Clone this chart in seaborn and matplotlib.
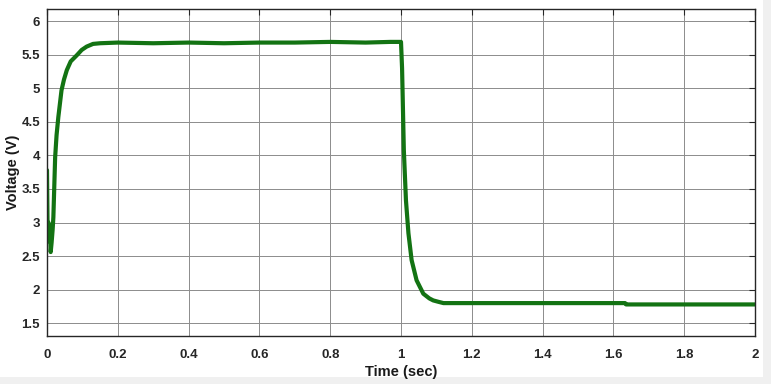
import matplotlib
matplotlib.use('Agg')
import matplotlib.pyplot as plt
import seaborn as sns
import pandas as pd
from matplotlib.patches import Rectangle

# Voltage trace
time_s = [0.0, 0.002, 0.004, 0.006, 0.008, 0.0104, 0.013, 0.016, 0.018, 0.023, 0.027,
          0.032, 0.041, 0.048, 0.056, 0.067, 0.084, 0.098, 0.112, 0.13, 0.15, 0.2,
          0.3, 0.4, 0.5, 0.6, 0.7, 0.8, 0.9, 0.97, 1.0,
          1.003, 1.005, 1.008, 1.014, 1.021, 1.03, 1.044, 1.063, 1.08, 1.091, 1.105, 1.12,
          1.3, 1.5, 1.633, 1.636, 1.8, 2.0]
voltage = [3.78, 2.75, 3.0, 2.72, 2.95, 2.56, 2.7, 2.9, 3.08, 3.97, 4.3,
           4.57, 4.97, 5.13, 5.27, 5.40, 5.49, 5.57, 5.62, 5.66, 5.67, 5.68,
           5.67, 5.68, 5.67, 5.68, 5.68, 5.69, 5.68, 5.69, 5.69,
           5.3, 4.82, 4.08, 3.33, 2.84, 2.44, 2.14, 1.94, 1.87, 1.84, 1.82, 1.80,
           1.80, 1.80, 1.80, 1.78, 1.78, 1.78]

x_ticks = [0, 0.2, 0.4, 0.6, 0.8, 1, 1.2, 1.4, 1.6, 1.8, 2]
x_labels = ['0', '0.2', '0.4', '0.6', '0.8', '1', '1.2', '1.4', '1.6', '1.8', '2']
y_ticks = [1.5, 2, 2.5, 3, 3.5, 4, 4.5, 5, 5.5, 6]
y_labels = ['1.5', '2', '2.5', '3', '3.5', '4', '4.5', '5', '5.5', '6']

df = pd.DataFrame({'Time (sec)': time_s, 'Voltage (V)': voltage})

sns.set_style('white')
plt.rcParams['font.family'] = ['Liberation Sans', 'DejaVu Sans']

fig = plt.figure(figsize=(7.71, 3.84), dpi=100, facecolor='white')
# light gray window border like the scope export
fig.patches.append(Rectangle((0, 0), 1, 7 / 384, transform=fig.transFigure,
                             facecolor='#f0f0f0', edgecolor='none', zorder=-1))
fig.patches.append(Rectangle((763 / 771, 0), 8 / 771, 1, transform=fig.transFigure,
                             facecolor='#f0f0f0', edgecolor='none', zorder=-1))

ax = fig.add_axes([47 / 771, 48 / 384, 708 / 771, 327 / 384])
sns.lineplot(data=df, x='Time (sec)', y='Voltage (V)', ax=ax,
             color='#137313', linewidth=3.0)

ax.set_xlim(0, 2)
ax.set_ylim(1.31, 6.18)
ax.set_xticks(x_ticks)
ax.set_xticklabels(x_labels)
ax.set_yticks(y_ticks)
ax.set_yticklabels(y_labels)

ax.grid(True, color='#8c8c8c', linewidth=0.7)
ax.set_axisbelow(True)
for s in ax.spines.values():
    s.set_color('#262626')
    s.set_linewidth(1.0)
ax.tick_params(direction='in', top=True, right=True, length=4, width=0.8,
               colors='#262626', labelsize=9.5)
ax.tick_params(axis='x', pad=9)
ax.tick_params(axis='y', pad=5)
for lbl in ax.get_xticklabels() + ax.get_yticklabels():
    lbl.set_fontweight('bold')

ax.set_xlabel('Time (sec)', fontsize=10.5, fontweight='bold', color='#1a1a1a', labelpad=3)
ax.set_ylabel('Voltage (V)', fontsize=10.5, fontweight='bold', color='#1a1a1a', labelpad=1)

fig.savefig('out.png', dpi=100, facecolor='white')
